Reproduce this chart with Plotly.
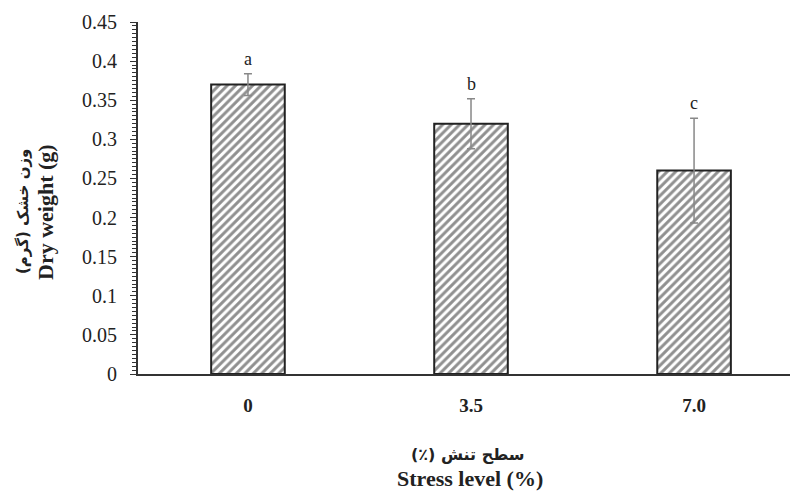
import plotly.graph_objects as go

categories = ["0", "3.5", "7.0"]
dry_weight = [0.37, 0.32, 0.26]
errors = [0.014, 0.032, 0.067]
letters = ["a", "b", "c"]
y_ticks = [0, 0.05, 0.1, 0.15, 0.2, 0.25, 0.3, 0.35, 0.4, 0.45]
y_tick_text = ["0", "0.05", "0.1", "0.15", "0.2", "0.25", "0.3", "0.35", "0.4", "0.45"]
x_title_fa = "(٪) سطح تنش"
x_title_en = "Stress level (%)"
y_title_fa = "وزن خشک (گرم)"
y_title_en = "Dry weight (g)"

serif = "Liberation Serif, DejaVu Serif, serif"
fa_font = "DejaVu Sans, Noto Sans, sans-serif"
ink = "#222222"

fig = go.Figure()
fig.add_trace(go.Bar(
    x=list(range(len(categories))), y=dry_weight,
    width=0.33,
    marker=dict(
        color="white",
        line=dict(color=ink, width=2),
        pattern=dict(shape="/", fgcolor="#222222", bgcolor="white", size=6, solidity=0.5),
    ),
    error_y=dict(type="data", array=errors, visible=True, color="#888888", thickness=1.5, width=4),
    showlegend=False,
))
# invisible companion trace so the label-carrying second y axis is drawn
fig.add_trace(go.Scatter(
    x=list(range(len(categories))), y=dry_weight, yaxis="y2",
    mode="markers", marker=dict(opacity=0), hoverinfo="skip", showlegend=False,
))

for i, (v, e, l) in enumerate(zip(dry_weight, errors, letters)):
    fig.add_annotation(x=i, y=v + e, text=l, showarrow=False, yanchor="bottom", yshift=3,
                       font=dict(family=serif, size=18, color=ink))

# axis titles as annotations (two lines each)
fig.add_annotation(xref="paper", yref="paper", x=0.5, y=0, yanchor="middle", xshift=0, yshift=-80,
                   text=f"<b>{x_title_fa}</b>", showarrow=False,
                   font=dict(family=fa_font, size=16, color=ink))
fig.add_annotation(xref="paper", yref="paper", x=0.5, y=0, yanchor="middle", xshift=2, yshift=-104,
                   text=f"<b>{x_title_en}</b>", showarrow=False,
                   font=dict(family=serif, size=22, color=ink))
fig.add_annotation(xref="paper", yref="paper", x=0, y=0.5, xanchor="center", xshift=-115, yshift=-14,
                   text=f"<b>{y_title_fa}</b>", showarrow=False, textangle=-90,
                   font=dict(family=fa_font, size=15, color=ink))
fig.add_annotation(xref="paper", yref="paper", x=0, y=0.5, xanchor="center", xshift=-93, yshift=-14,
                   text=f"<b>{y_title_en}</b>", showarrow=False, textangle=-90,
                   font=dict(family=serif, size=22, color=ink))

fig.update_layout(
    width=798, height=495,
    margin=dict(l=130, r=8, t=14, b=129),
    paper_bgcolor="white", plot_bgcolor="white",
    font=dict(family=serif, color=ink),
    xaxis=dict(
        range=[-0.493, 2.466], tickvals=list(range(len(categories))), ticktext=categories,
        showline=True, linecolor="#333333", linewidth=2,
        showgrid=False, zeroline=False, automargin=False,
        ticks="", tickfont=dict(family=serif, size=19, color=ink, weight="bold"),
        ticklabelstandoff=13,
    ),
    yaxis=dict(
        range=[0, 0.45], tickvals=y_ticks, showticklabels=False,
        showline=True, linecolor="#333333", linewidth=2,
        showgrid=False, zeroline=False, automargin=False,
        ticks="outside", ticklen=6, tickwidth=1.2, tickcolor="#333333",
        minor=dict(dtick=0.005, ticks="outside", ticklen=4, tickwidth=1, tickcolor="#333333", showgrid=False),
    ),
    # second y axis only carries the tick labels, set a little further from the axis line
    yaxis2=dict(
        overlaying="y", side="left", range=[0, 0.45],
        tickvals=y_ticks, ticktext=y_tick_text, showticklabels=True,
        ticks="outside", ticklen=16, tickcolor="rgba(0,0,0,0)",
        showline=False, showgrid=False, zeroline=False, automargin=False,
        tickfont=dict(family=serif, size=20, color=ink),
    ),
)

fig.write_html("out.html")
